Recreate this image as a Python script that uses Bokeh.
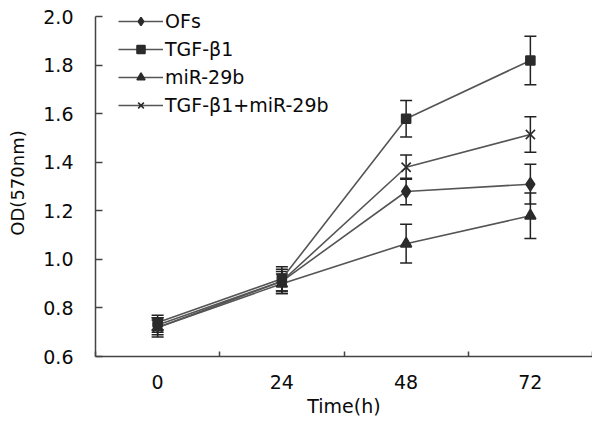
from bokeh.plotting import figure
from bokeh.models import (FixedTicker, Whisker, TeeHead, ColumnDataSource, Range1d,
                          Legend, LegendItem)
from bokeh.embed import file_html
from bokeh.resources import INLINE

# ---- data ----
times = ["0", "24", "48", "72"]
names = ["OFs", "TGF-β1", "miR-29b", "TGF-β1+miR-29b"]
ofs = [0.73, 0.91, 1.28, 1.31]
ofs_err = [0.03, 0.04, 0.055, 0.082]
tgf = [0.74, 0.92, 1.58, 1.82]
tgf_err = [0.03, 0.05, 0.075, 0.10]
mir = [0.72, 0.90, 1.065, 1.18]
mir_err = [0.03, 0.04, 0.08, 0.094]
combo = [0.72, 0.91, 1.38, 1.515]
combo_err = [0.04, 0.05, 0.05, 0.073]
y_ticks = [0.6, 0.8, 1.0, 1.2, 1.4, 1.6, 1.8, 2.0]

FONT = "DejaVu Sans"
LINE = "#555555"
MARK = "#2b2b2b"
AXIS = "#444444"
TXT = "#0a0a0a"

xpos = [i + 0.5 for i in range(len(times))]
bounds = [float(i) for i in range(len(times) + 1)]

p = figure(width=592, height=419, output_backend="svg", toolbar_location=None,
           x_range=Range1d(0, len(times)), y_range=Range1d(0.6, 2.03),
           min_border_left=95, min_border_right=0, min_border_top=9, min_border_bottom=60)
p.outline_line_color = None
p.xgrid.grid_line_color = None
p.ygrid.grid_line_color = None
p.background_fill_color = "white"
p.border_fill_color = "white"

# x axis
xa = p.xaxis[0]
xa.ticker = FixedTicker(ticks=xpos, minor_ticks=bounds)
xa.major_label_overrides = {x: t for x, t in zip(xpos, times)}
xa.major_tick_line_color = None
xa.major_tick_in = 0
xa.major_tick_out = 0
xa.minor_tick_in = 5
xa.minor_tick_out = 0
xa.minor_tick_line_color = AXIS
xa.minor_tick_line_width = 1.5
xa.axis_line_color = AXIS
xa.axis_line_width = 1.5
xa.major_label_text_font = FONT
xa.major_label_text_font_size = "19px"
xa.major_label_text_color = TXT
xa.major_label_standoff = 18
xa.axis_label = "Time(h)"
xa.axis_label_text_font = FONT
xa.axis_label_text_font_size = "19px"
xa.axis_label_text_font_style = "normal"
xa.axis_label_text_color = TXT
xa.axis_label_standoff = 3

# y axis
ya = p.yaxis[0]
ya.ticker = FixedTicker(ticks=y_ticks, minor_ticks=[])
ya.bounds = (0.6, 2.0)
ya.major_label_overrides = {v: f"{v:.1f}" for v in y_ticks}
ya.major_tick_in = 7
ya.major_tick_out = 0
ya.major_tick_line_color = AXIS
ya.major_tick_line_width = 1.5
ya.axis_line_color = AXIS
ya.axis_line_width = 1.5
ya.major_label_text_font = FONT
ya.major_label_text_font_size = "19px"
ya.major_label_text_color = TXT
ya.major_label_standoff = 22
ya.axis_label = "OD(570nm)"
ya.axis_label_text_font = FONT
ya.axis_label_text_font_size = "18px"
ya.axis_label_text_font_style = "normal"
ya.axis_label_text_color = TXT
ya.axis_label_standoff = 12

series = [
    (ofs, ofs_err, "diamond", 13, True),
    (tgf, tgf_err, "square", 9, True),
    (mir, mir_err, "triangle", 11, True),
    (combo, combo_err, "x", 13, False),
]

items = []
line_renderers = []
for (vals, errs, marker, size, filled), name in zip(series, names):
    lr = p.line(xpos, vals, line_color=LINE, line_width=1.6)
    line_renderers.append((lr, vals, errs, marker, size, filled, name))

for lr, vals, errs, marker, size, filled, name in line_renderers:
    src = ColumnDataSource(dict(base=xpos,
                                upper=[v + e for v, e in zip(vals, errs)],
                                lower=[v - e for v, e in zip(vals, errs)]))
    w = Whisker(source=src, base="base", upper="upper", lower="lower",
                line_color="#222222", line_width=1.5,
                upper_head=TeeHead(size=12, line_color="#222222", line_width=1.5),
                lower_head=TeeHead(size=12, line_color="#222222", line_width=1.5))
    p.add_layout(w)

for lr, vals, errs, marker, size, filled, name in line_renderers:
    sr = p.scatter(xpos, vals, marker=marker, size=size,
                   fill_color=MARK if filled else None, line_color=MARK,
                   line_width=1.6)
    items.append(LegendItem(label=name, renderers=[lr, sr]))

legend = Legend(items=items, location=(23, 240), padding=0, margin=0, spacing=6,
                label_height=20, glyph_height=20, glyph_width=45, label_standoff=2,
                label_text_font=FONT, label_text_font_size="19px",
                label_text_color=TXT,
                border_line_color=None, background_fill_alpha=0)
p.add_layout(legend)

open("out.html", "w").write(file_html(p, INLINE))
